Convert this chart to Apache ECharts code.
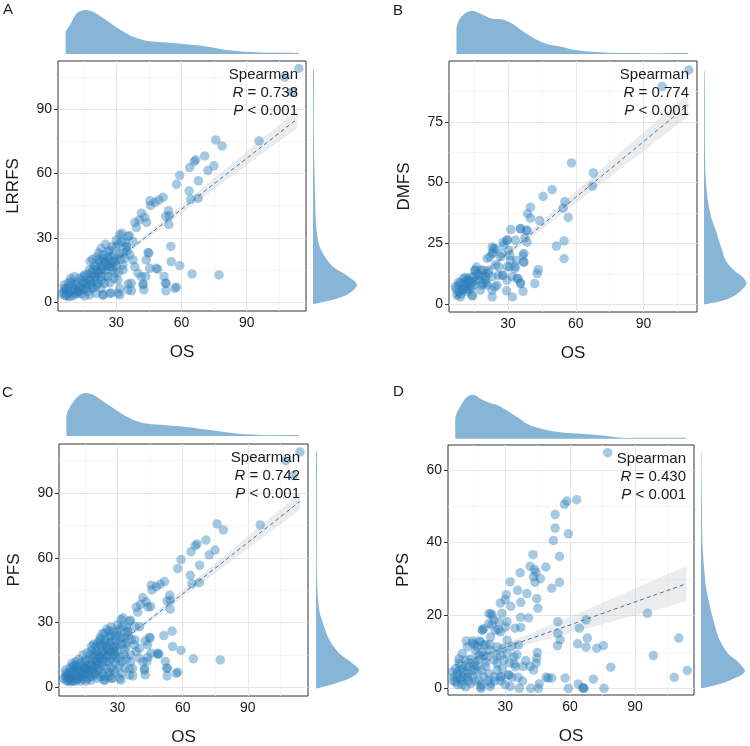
<!DOCTYPE html>
<html>
<head>
<meta charset="utf-8">
<script src="https://cdn.jsdelivr.net/npm/echarts@6/dist/echarts.min.js"></script>
<style>
  html, body { margin: 0; padding: 0; background: #fff; }
  #chart { width: 750px; height: 746px; }
</style>
</head>
<body>
<div id="chart"></div>
<script>
// ---- data (OS on x for every panel) ----
// A: OS vs LRRFS
const ptsA = [
  [114,109],[107.5,105],[111,98],[95.7,75.2],[75.8,75.7],[78.7,72.9],[70.7,68.2],[66.6,66.4],[65.8,65.6],[63.8,62.8],
  [74.9,63.6],[72.2,61.4],[59.2,59.2],[57.7,55],[67.8,56.6],[63.5,51.9],[64.2,48],[67.7,48.5],[51.6,49],[49.6,47.7],
  [47.8,46.6],[45.8,45.1],[45.5,47.3],[54,42.7],[54.3,40.3],[52.8,40],[54.2,36.2],[41.6,41.5],[43.1,39.6],[44,37.2],
  [40.6,38.4],[38.6,37.2],[39.3,34.8],[32.5,32.2],[36,31.1],[37.8,28.3],[34,28],[34.7,26],[55.1,26],[45,22.9],
  [59.2,17.1],[49.1,15.4],[43.5,12],[52,12],[52.6,8.9],[52.8,5.3],[57.7,7],[57,6.5],[64.9,13.2],[77.3,12.7],
  [42.4,8.5],[42.7,5.8],[35.5,8.5],[37,5.3],[30.9,4.2],[24,3.4],[27,4.2],
  [7.8,4.2],[10.1,5.7],[6.2,6.5],[12.4,4.9],[9.3,9.6],[14.7,8.8],[11.6,8.1],[17,10.4],[18.5,8.1],[20,11.9],
  [21.6,13.5],[23.1,15.1],[24.7,18.2],[23.9,20.5],[26.2,19.7],[22.4,18.9],[20.8,16.6],[19.3,15.1],[27.7,21.3],[28.5,16.6],
  [26.2,11.9],[24.7,8.8],[23.1,6.5],[20.8,4.2],[17.7,3.4],[15.4,2.9],[13.9,3.9],[23.9,3.4],[27.7,4.2],[31.6,3.4],
  [26.2,23.6],[30,25.9],[31.6,22.8],[32.3,28.3],[35.4,30.6],[34.6,25.9],[31.6,31.4],[33.9,20.5],[36.2,22.1],[37.7,19.7],
  [38.5,16.6],[40,13.5],[36.9,8.8],[35.4,5.7],[31.6,6.5],[30.8,10.4],[29.3,13.5],[33.1,15.1],[42.3,8.1],[44.6,23.1],
  [43.8,19.7],[45.4,15.8],[48.4,15.8],[55.3,18.9],[53,8.8],[41.5,11.9],[33.1,17.4],[17.7,15.1],[15.4,12.7],[13.1,11.2],
  [10.8,11.9],[25.4,15.1],[21.6,8.8],[19.3,6.5],[16.2,6.5],[6.2,3.4],[8.5,2.6],[29.3,19],[27,16.6],[23.1,11.9],[20.8,10.4],
  [5,4],[6,5],[7,6],[8,7],[9,5],[10,8],[11,6],[12,9],[13,7],[14,10],[15,12],[16,9],[17,13],[18,11],[19,14],[20,17],
  [21,15],[22,20],[23,17],[24,22],[25,19],[26,21],[27,24],[28,18],[29,22],[30,20],[8,9],[9,11],[11,4],[13,5],[15,6],
  [17,5],[19,7],[21,8],[23,10],[25,12],[27,9],[29,11],[31,14],[6,8],[7,3],[10,3],[12,4],[14,6],[16,8],[18,10],[20,12],
  [22,14],[24,16],[26,17],[28,15],[30,17],[32,20],[33,23],[35,24],[18,19],[19,20],[21,21],[22,23],[23,25],[25,27],
  [28,26],[30,29],[31,27]
];
// B: OS vs DMFS
const ptsB = [
  [110.1,96.3],[98.3,89.5],[58.1,58.1],[67.8,54],[67.4,48.5],[49.5,47.1],[45.5,44.3],[55.1,42.2],[54.4,39.5],[56.6,35.7],
  [39.9,39.9],[38.6,37.2],[39.9,35.4],[43.9,34.4],[54.8,26],[51.4,23.9],[54.8,18.7],[31.2,30.7],[35.5,31],[38.1,30.3],
  [37.4,27.3],[38.4,25.5],[29.7,26.4],[27.8,25.5],[22.9,23.5],[23.3,21.2],[21.9,19.4],[27,20.8],[30.7,20.1],[33.7,18],
  [36.6,20.1],[36.9,17.3],[30.7,15.3],[32.9,14.6],[43.3,14.2],[42.9,12.6],[41.8,8.5],[34.4,10.5],[35.5,8.7],[36.6,5.3],
  [29.3,5.5],[31.9,3],[22.9,3],[14.2,3.4],[24.1,7.1],[25.6,11.9],[27.8,11.9],[21.1,12.6],[15.2,13.9],[16,15.3],
  [18.9,8.5],[20.4,8.7],
  [7.3,3.7],[9.6,5.8],[8.1,7.8],[11,8.5],[10.3,10.6],[12.5,9.9],[14.7,11.3],[15.5,14],[17,9.9],[14,7.1],
  [18.4,7.8],[19.9,11.3],[19.2,14],[21.4,14],[22.9,20.9],[23.6,22.9],[20.7,18.8],[24.4,16.1],[25.8,15.4],[27.3,11.9],
  [25.1,7.8],[22.9,5.8],[14,3.7],[6.6,7.1],[8.8,3],[11.8,5.1],[16.2,12.6],[29.5,9.9],[31.8,11.3],[33.2,15.4],
  [31,18.1],[30.3,22.2],[28.1,24.3],[29.5,26.3],[33.2,26.3],[35.5,31.1],[38.4,30.4],[37,20.9],[37,17.4],[34,10.6],
  [35.5,8.5],[24.4,22.9],[26.6,19.5],[29.5,15.4],[22.9,11.3],[20.7,7.8],[17.7,5.8],[12.5,7.8],
  [8,5],[9,4],[10,6],[11,7],[12,10],[13,11],[9,9],[10,8],[13,6],[15,8],[16,10],[12,6],[7,6],[8,9],[11,11],[14,9],
  [17,12],[18,14],[19,12],[20,10]
];
// C: OS vs PFS (same patients as A plus the extra ones)
const ptsCextra = [
  [51.3,24],[45.2,37.4],[40.1,28.1],[42.7,21.5],[48.5,15.3],[40,18],[38,22],[36,15],[33,9],[29,7],[26,5],[44,14],
  [31,24],[34,19],[12,13],[14,15],[16,16],[18,17],[10,10],[9,7],[11,10],[13,8],[15,9],[17,8],[19,9],[21,11],[23,13],
  [25,14],[27,13],[29,15],[32,12],[34,13],[36,12],[24,25],[26,26],[27,28],[29,24],[20,19],[22,22],[7,5],[8,4],[9,3],
  [11,3],[13,3],[16,4],[18,5],[20,6],[22,5],[24,5],[26,7],[28,8]
];
const ptsC = ptsA.concat(ptsCextra);
// D: OS vs PPS
const ptsD = [
  [77.4,64.7],[63.1,51.8],[58.5,51.4],[57.4,50.5],[53.1,47.7],[53.1,44],[52.3,40.6],[59.2,42.4],[55.1,36.2],[42.8,36.7],
  [41.5,33.5],[43.5,32.6],[44.3,31.8],[48.8,33.3],[36.9,31.7],[32.3,29.2],[43.1,30.6],[46.2,30.1],[43.8,29.1],[55.1,29.1],
  [51.5,27.5],[35.7,26.9],[40,26],[44.6,24.6],[30.5,25.7],[30,24.3],[27.7,23.4],[37.2,23.6],[45.1,22],[32.6,22.5],
  [23.4,20.5],[28.5,20.6],[40.8,19.3],[37.1,19.5],[34.6,16.5],[30.8,18.3],[23.8,17.4],[26.9,16.1],[37.2,16.7],[19.5,16.1],
  [54.3,18.3],[54.3,15.1],[55.4,13.3],[54.2,11.7],[64.3,16.5],[67.4,18.8],[68,13.8],[63.5,12.2],[67.4,11.3],[72.3,11],
  [75.4,11.7],[78.8,5.8],[95.8,20.6],[110.3,13.8],[98.5,9],[108.2,3],[114.2,4.9],[70.8,2.5],[75.7,0],[66.2,0],
  [66.5,0],[65.8,0.2],[63.8,1.2],[59.2,0],[57.7,2.8],[51.5,2.8],[48.9,3],[49.8,2.8],[41.8,0],[45.7,1.2],
  [45.4,0],[36.5,0],[32.3,0.5],[23.1,0.5],[18.9,0],[41.5,6],[43.1,5],[38.2,6],[34.3,6.7],[31.5,3.7],
  [33.1,3],[28.2,3.2],[44.6,8.3],[44.9,9.8],[44.3,6.9],[39.5,7.6],[35.4,9.2],[33.1,11.5],[36.2,11.9],
  [6.3,3.1],[7.8,4],[9.4,2.7],[7.1,1.7],[10.9,4.5],[12.5,3.1],[10.1,5.4],[8.6,6.8],[13.2,5.9],[15.5,6.3],
  [17.1,4.5],[14.8,3.6],[17.8,2.2],[20.2,3.1],[22.5,4],[24.8,3.1],[27.8,3.1],[31.7,3.6],[23.2,1.3],[18.6,0.4],
  [14,1.3],[11.7,0.4],[12.5,11.4],[14.8,12.3],[17.1,11.4],[18.6,12.7],[20.2,11.8],[16.3,10.4],[17.8,9.1],[19.4,10],
  [21.7,8.6],[23.2,10.4],[20.9,7.2],[24.8,7.7],[26.3,6.8],[28.6,5.4],[26.3,5],[29.4,7.7],[27.8,9],[30.9,9.5],
  [34,8.6],[34.8,5.9],[30.9,13.2],[26.3,11.4],[23.2,14.1],[25.5,15.9],[27.8,15.5],[30.1,16.8],[27.1,18.2],[24.8,18.7],
  [22.5,17.8],[24,20],[22.5,20.5],[20.1,16.4],[19.4,15.9],[10.1,9.5],[8.6,8.1],[11.7,7.7],[5.5,4.5],[7.1,5.4],
  [6,2],[8,3],[9,5],[10,2],[11,3],[12,6],[13,4],[14,8],[15,5],[16,7],[17,6],[18,8],[19,5],[20,9],[21,6],[8,1],[10,1],
  [13,2],[16,2],[19,1],[22,2],[25,2],[12,13],[15,13],[18,13],[16,12],[21,12],[23,12],[28,2],[30,1],[26,9],[29,11],
  [32,7],[36,3],[38,2]
];

// linear fit with 95% band (read at a few OS values)
const regXA = [6.7, 20, 40, 60, 80, 100, 113.3];
const regFitA = [1.1, 11.6, 27.5, 43.3, 59.2, 75, 85.5];
const regLoA = [-0.4, 10.7, 26.3, 41.4, 56.4, 71.4, 81.3];
const regHiA = [2.6, 12.5, 28.7, 45.2, 62, 78.6, 89.7];
const regXB = [6.4, 20, 40, 60, 80, 100, 109.8];
const regFitB = [3, 13.4, 28.7, 44, 59.2, 74.5, 82];
const regLoB = [1.2, 12.3, 27.2, 41.6, 55.8, 70.2, 77.2];
const regHiB = [4.8, 14.5, 30.2, 46.4, 62.6, 78.8, 86.8];
const regXC = [6.4, 20, 40, 60, 80, 100, 114];
const regFitC = [1.1, 11.8, 27.6, 43.4, 59.2, 75, 86.1];
const regLoC = [-0.2, 11, 26.5, 41.7, 56.7, 71.7, 82.2];
const regHiC = [2.4, 12.6, 28.7, 45.1, 61.7, 78.3, 90];
const regXD = [6.9, 20, 40, 60, 80, 100, 113.8];
const regFitD = [6.4, 9.1, 13.3, 17.4, 21.6, 25.8, 28.7];
const regLoD = [4.4, 7.9, 12, 15.2, 18.4, 21.6, 23.9];
const regHiD = [8.4, 10.3, 14.6, 19.6, 24.8, 30, 33.5];

// marginal densities (relative height, peak = 100)
const topXA = [6.7,8.7,11.8,15.6,19.4,24,28.6,33.2,37.8,43.9,53.1,62.3,71.5,80.7,89.9,99,106.7,113.9];
const topDA = [49,66,92,100,96,81,66,51,39,30,26,22,17,9,5,3,3,2];
const rightYA = [-0.8,1.1,4.2,8.1,12,16.6,21.3,26,32.2,40,47.7,63.3,78.8,94.4,108.3];
const rightDA = [2,45,83,100,80,45,27,15,9,6,5,3,2,2,2];
const topXB = [7.1,9.3,13.7,18.2,22.6,27,31.5,35.9,40.3,44.8,49.2,53.6,59.6,66.9,74.3,89.1,99.5,109.8];
const topDB = [59,86,100,92,82,80,71,55,40,28,21,17,9,5,3,2,2,2];
const rightYB = [0,1.6,4.4,8.5,11.2,13.9,18,22.1,26.2,30.3,35.8,42.6,49.5,56.3,70,83.6,95.9];
const rightDB = [4,47,79,100,91,71,51,43,35,28,17,9,5,3,2,2,1];
const topXC = [6.4,8.7,11.8,14.8,18.7,23.3,27.9,32.5,37,43.2,52.3,61.5,70.7,79.9,89.1,98.3,113.6];
const topDC = [46,73,92,100,96,81,65,50,38,29,25,21,15,9,4,2,2];
const rightYC = [-0.5,1.9,4.9,8,11.1,15.8,22,28.1,34.3,40.5,52.9,68.3,83.8,109.3];
const rightDC = [2,46,85,100,85,54,31,19,9,5,2,2,2,2];
const topXD = [6.9,9.2,12.3,15.4,19.2,23.1,26.9,31.5,36.2,40.8,46.9,56.2,65.4,74.6,83.8,93.1,103.8,113.8];
const topDD = [47,73,95,100,89,81,75,62,47,32,22,14,11,7,2,2,2,2];
const rightYD = [0,0.9,2.3,4.6,6.9,9.6,13.3,17,20.6,24.3,28,31.7,36.2,40.8,50,59.2,64.7];
const rightDD = [2,34,68,100,87,61,42,32,24,17,11,8,5,3,2,1,1];

// axis ticks
const xTicks = [30, 60, 90];
const xMinor = [15, 45, 75, 105];
const yTicksA = [0, 30, 60, 90], yMinorA = [15, 45, 75, 105];
const yTicksB = [0, 25, 50, 75], yMinorB = [12.5, 37.5, 62.5, 87.5];
const yTicksD = [0, 20, 40, 60], yMinorD = [10, 30, 50];

const rValues = ['0.738', '0.774', '0.742', '0.430'];

// ---- layout ----
const FONT = 'Liberation Sans, Arial, sans-serif';
const ptColor = 'rgba(42,124,186,0.52)';
const densColor = '#86b5d7';

const panels = [
  { tag: 'A', yName: 'LRRFS', pts: ptsA, xr: [3.2, 117.3], yr: [-4.1, 112.5], yT: yTicksA, yM: yMinorA,
    box: { l: 58, t: 61, w: 248, h: 250 }, top: [10, 54], right: [313, 357], tagPos: [3, 10],
    reg: [regXA, regFitA, regLoA, regHiA], dens: [topXA, topDA, rightYA, rightDA] },
  { tag: 'B', yName: 'DMFS', pts: ptsB, xr: [3.8, 113.7], yr: [-3.2, 100], yT: yTicksB, yM: yMinorB,
    box: { l: 449, t: 61, w: 248, h: 251 }, top: [10.7, 54], right: [704, 746.5], tagPos: [393, 11.5],
    reg: [regXB, regFitB, regLoB, regHiB], dens: [topXB, topDB, rightYB, rightDB] },
  { tag: 'C', yName: 'PFS', pts: ptsC, xr: [3, 117.7], yr: [-4, 112.7], yT: yTicksA, yM: yMinorA,
    box: { l: 59, t: 444, w: 249, h: 252 }, top: [393, 436], right: [316, 359], tagPos: [2, 393.5],
    reg: [regXC, regFitC, regLoC, regHiC], dens: [topXC, topDC, rightYC, rightDC] },
  { tag: 'D', yName: 'PPS', pts: ptsD, xr: [3.55, 117.3], yr: [-1.84, 66.8], yT: yTicksD, yM: yMinorD,
    box: { l: 448, t: 445, w: 246, h: 250 }, top: [394.7, 438.7], right: [701, 745], tagPos: [393, 392.5],
    reg: [regXD, regFitD, regLoD, regHiD], dens: [topXD, topDD, rightYD, rightDD] }
];

const grid = [], xAxis = [], yAxis = [], series = [], graphic = [];

// filled density drawn through the marginal grid's axes
function densityShape(xs, ds, horizontal) {
  return function (params, api) {
    const pts = [];
    const n = xs.length;
    if (horizontal) {
      pts.push(api.coord([0, xs[0]]));
      for (let i = 0; i < n; i++) pts.push(api.coord([ds[i], xs[i]]));
      pts.push(api.coord([0, xs[n - 1]]));
    } else {
      pts.push(api.coord([xs[0], 0]));
      for (let i = 0; i < n; i++) pts.push(api.coord([xs[i], ds[i]]));
      pts.push(api.coord([xs[n - 1], 0]));
    }
    // keep the smoothed outline inside the points' bounding box
    let x0 = Infinity, y0 = Infinity, x1 = -Infinity, y1 = -Infinity;
    pts.forEach(function (q) {
      x0 = Math.min(x0, q[0]); y0 = Math.min(y0, q[1]);
      x1 = Math.max(x1, q[0]); y1 = Math.max(y1, q[1]);
    });
    return { type: 'polygon', shape: { points: pts, smooth: 0.35, smoothConstraint: [[x0, y0], [x1, y1]] },
      style: { fill: densColor } };
  };
}

function bandShape(xs, lo, hi) {
  return function (params, api) {
    const pts = [];
    for (let i = 0; i < xs.length; i++) pts.push(api.coord([xs[i], hi[i]]));
    for (let i = xs.length - 1; i >= 0; i--) pts.push(api.coord([xs[i], lo[i]]));
    return { type: 'polygon', shape: { points: pts }, style: { fill: 'rgba(200,200,200,0.35)' } };
  };
}

panels.forEach(function (p, i) {
  const g = i * 3;
  const b = p.box;
  // main panel
  grid.push({ left: b.l, top: b.t, width: b.w, height: b.h, show: true, backgroundColor: '#fff',
    borderColor: '#333', borderWidth: 1, containLabel: false, outerBoundsMode: 'none' });
  // top marginal
  grid.push({ left: b.l, top: p.top[0], width: b.w, height: p.top[1] - p.top[0], show: false,
    containLabel: false, outerBoundsMode: 'none' });
  // right marginal
  grid.push({ left: p.right[0], top: b.t, width: p.right[1] - p.right[0], height: b.h, show: false,
    containLabel: false, outerBoundsMode: 'none' });

  xAxis.push({
    gridIndex: g, type: 'value', min: p.xr[0], max: p.xr[1],
    axisLine: { show: false },
    axisTick: { show: true, customValues: xTicks, length: 4, lineStyle: { color: '#333' } },
    axisLabel: { customValues: xTicks, fontSize: 14, color: '#1a1a1a', fontFamily: FONT, margin: 5 },
    splitLine: { show: false },
    name: 'OS', nameLocation: 'middle', nameGap: 33, nameMoveOverlap: false,
    nameTextStyle: { fontSize: 17, color: '#1a1a1a', fontFamily: FONT }
  });
  yAxis.push({
    gridIndex: g, type: 'value', min: p.yr[0], max: p.yr[1],
    axisLine: { show: false },
    axisTick: { show: true, customValues: p.yT, length: 4, lineStyle: { color: '#333' } },
    axisLabel: { customValues: p.yT, fontSize: 14, color: '#1a1a1a', fontFamily: FONT, margin: 6 },
    splitLine: { show: false },
    name: p.yName, nameLocation: 'middle', nameGap: 36, nameMoveOverlap: false,
    nameTextStyle: { fontSize: 17, color: '#1a1a1a', fontFamily: FONT }
  });
  xAxis.push({ gridIndex: g + 1, type: 'value', min: p.xr[0], max: p.xr[1], show: false });
  yAxis.push({ gridIndex: g + 1, type: 'value', min: 0, max: 100, show: false });
  xAxis.push({ gridIndex: g + 2, type: 'value', min: 0, max: 100, show: false });
  yAxis.push({ gridIndex: g + 2, type: 'value', min: p.yr[0], max: p.yr[1], show: false });

  const major = { color: '#e6e6e6', width: 1, type: 'solid' };
  const minor = { color: '#f2f2f2', width: 0.8, type: 'solid' };
  const gridLines = []
    .concat(xTicks.map(v => ({ xAxis: v, lineStyle: major })))
    .concat(xMinor.map(v => ({ xAxis: v, lineStyle: minor })))
    .concat(p.yT.map(v => ({ yAxis: v, lineStyle: major })))
    .concat(p.yM.map(v => ({ yAxis: v, lineStyle: minor })));

  const [rx, rfit, rlo, rhi] = p.reg;
  series.push({
    type: 'custom', xAxisIndex: g, yAxisIndex: g, z: 2, silent: true,
    data: [[rx[0], rfit[0]]], renderItem: bandShape(rx, rlo, rhi)
  });
  series.push({
    type: 'line', xAxisIndex: g, yAxisIndex: g, z: 3, silent: true, showSymbol: false,
    data: rx.map((x, k) => [x, rfit[k]]),
    lineStyle: { color: '#2f7cbf', width: 1, type: [4, 3] }
  });
  series.push({
    type: 'scatter', xAxisIndex: g, yAxisIndex: g, z: 4, symbolSize: 9.5,
    itemStyle: { color: ptColor }, data: p.pts,
    markLine: { silent: true, z: 1, symbol: ['none', 'none'], label: { show: false }, animation: false, data: gridLines }
  });

  const [tx, td, ry, rd] = p.dens;
  series.push({
    type: 'custom', xAxisIndex: g + 1, yAxisIndex: g + 1, silent: true,
    data: [[tx[0], 0]], renderItem: densityShape(tx, td, false)
  });
  series.push({
    type: 'custom', xAxisIndex: g + 2, yAxisIndex: g + 2, silent: true,
    data: [[0, ry[0]]], renderItem: densityShape(ry, rd, true)
  });

  // panel tag and Spearman annotation
  graphic.push({ type: 'text', left: p.tagPos[0], top: p.tagPos[1] - 8,
    style: { text: p.tag, fontSize: 15, fontFamily: FONT, fill: '#1a1a1a' } });
  const tx0 = b.l + b.w - 8;
  const lines = ['Spearman', '{i|R} = ' + rValues[i], '{i|P} < 0.001'];
  const dy = [14, 31.7, 50];
  lines.forEach(function (t, k) {
    graphic.push({
      type: 'text', x: tx0, y: b.t + dy[k], z: 10,
      style: { text: t, fontSize: 15, fontFamily: FONT, fill: '#1a1a1a', align: 'right', verticalAlign: 'middle',
        rich: { i: { fontStyle: 'italic', fontSize: 15, fontFamily: FONT, fill: '#1a1a1a' } } }
    });
  });
});

const myChart = echarts.init(document.getElementById('chart'), null, { renderer: 'canvas' });
myChart.setOption({
  animation: false,
  backgroundColor: '#fff',
  grid: grid,
  xAxis: xAxis,
  yAxis: yAxis,
  series: series,
  graphic: graphic
});
window.addEventListener('resize', () => { myChart.resize(); });
</script>
</body>
</html>
